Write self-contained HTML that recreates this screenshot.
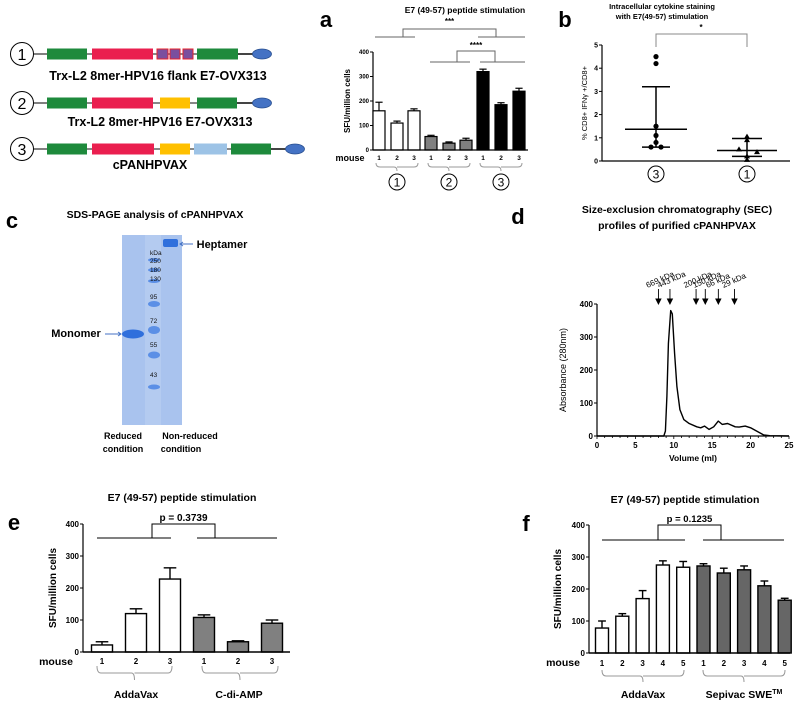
<!DOCTYPE html>
<html><head><meta charset="utf-8"><style>
html,body{margin:0;padding:0;background:#fff;}
svg{display:block;font-family:"Liberation Sans",sans-serif;}
.b{font-weight:bold;}
</style></head><body>
<svg id="fig" width="800" height="703" viewBox="0 0 800 703" xmlns="http://www.w3.org/2000/svg">
<g id="constructs"></g>
<g id="pa"></g>
<g id="pb"></g>
<g id="pc"></g>
<g id="pd"></g>
<g id="pe"></g>
<g id="pf"></g>
</svg>
<script>
// ---------- data ----------
const aCategories = ["1","2","3","1","2","3","1","2","3"];
const aValues = [160,110,160,55,28,40,320,185,240];
const aErrors = [35,8,8,5,5,8,10,8,12];
const aFills = ["#fff","#fff","#fff","#808080","#808080","#808080","#000","#000","#000"];
const aTicks = [0,100,200,300,400];

const bGroups = ["③","①"];
const bGroup3Values = [4.5,4.2,1.5,1.1,0.8,0.6,0.6];
const bGroup1Values = [1.05,0.9,0.5,0.38,0.2,0.05];
const bMeans = [1.37,0.45];
const bSDlow = [0.6,0.2];
const bSDhigh = [3.2,0.97];
const bTicks = [0,1,2,3,4,5];

const dVolumes = [0,8.7,8.9,9.1,9.3,9.6,9.8,10.1,10.4,10.8,11.3,12,13,13.5,14,14.6,15.2,15.8,16.3,17,18,18.5,19.3,20,21,21.7,22.5,25];
const dAbsorbance = [0,0,15,120,280,380,370,250,150,80,50,38,28,25,30,20,28,45,35,38,28,27,30,25,12,3,1,0];
const dMarkerLabels = ["669 kDa","443 kDa","200 kDa","150 kDa","66 kDa","29 kDa"];
const dMarkerVolumes = [8.0,9.5,12.9,14.1,15.8,17.9];
const dXTicks = [0,5,10,15,20,25];
const dYTicks = [0,100,200,300,400];

const eCategories = ["1","2","3","1","2","3"];
const eValues = [22,120,228,108,32,90];
const eErrors = [10,15,35,8,3,10];
const eFills = ["#fff","#fff","#fff","#808080","#808080","#808080"];
const eTicks = [0,100,200,300,400];

const fCategories = ["1","2","3","4","5","1","2","3","4","5"];
const fValues = [78,115,170,275,268,272,250,260,210,165];
const fErrors = [22,8,25,13,18,7,15,12,15,6];
const fFills = ["#fff","#fff","#fff","#fff","#fff","#666","#666","#666","#666","#666"];
const fTicks = [0,100,200,300,400];

const NS="http://www.w3.org/2000/svg";
function mk(parent,tag,attrs,text){
  const el=document.createElementNS(NS,tag);
  for(const k in attrs) el.setAttribute(k,attrs[k]);
  if(text!==undefined) el.textContent=text;
  parent.appendChild(el); return el;
}
function lin(d0,d1,r0,r1){return v=>r0+(v-d0)*(r1-r0)/(d1-d0);}

// ---------- constructs ----------
const C=document.getElementById('constructs');
function circNum(g,cx,cy,r,t,fs){
  const c=mk(g,'circle',{cx:cx,cy:cy,r:r,fill:'none',stroke:'#000','stroke-width':1});
  
  
  const tx=mk(g,'text',{x:cx,y:cy+fs*0.36,'text-anchor':'middle','font-size':fs},t);
  
  
}
const rows=[
 {y:54,label:"Trx-L2 8mer-HPV16 flank E7-OVX313",ly:80,lx:158,end:255,ell:262,
  segs:[[47,87,'#1e8a3c'],[92,153,'#ea1f4f'],[197,238,'#1e8a3c']],purple:[[157,168],[170,180],[183,193]]},
 {y:103,label:"Trx-L2 8mer-HPV16 E7-OVX313",ly:126,lx:160,end:255,ell:262,
  segs:[[47,87,'#1e8a3c'],[92,153,'#ea1f4f'],[160,190,'#ffc000'],[197,237,'#1e8a3c']],purple:[]},
 {y:149,label:"cPANHPVAX",ly:169,lx:150,end:288,ell:295,
  segs:[[47,87,'#1e8a3c'],[92,154,'#ea1f4f'],[160,190,'#ffc000'],[194,227,'#9dc3e6'],[231,271,'#1e8a3c']],purple:[]}
];
rows.forEach((r,i)=>{
  circNum(C,22,r.y,11.5,String(i+1),16);
  const l1=mk(C,'line',{x1:34,y1:r.y,x2:47,y2:r.y,stroke:'#000','stroke-width':1});
  
  const l2=mk(C,'line',{x1:47,y1:r.y,x2:r.end,y2:r.y,stroke:'#888','stroke-width':2});
  
  r.segs.forEach(s=>{
    const rc=mk(C,'rect',{x:s[0],y:r.y-5.5,width:s[1]-s[0],height:11,fill:s[2]});
    
    
  });
  r.purple.forEach(p=>{
    const rc=mk(C,'rect',{x:p[0],y:r.y-5,width:p[1]-p[0],height:10,fill:'#7a4f9e',stroke:'#e8202a','stroke-width':1});
    
    
  });
  const l3=mk(C,'line',{x1:r.segs[r.segs.length-1][1],y1:r.y,x2:r.ell-9,y2:r.y,stroke:'#000','stroke-width':1});
  
  const e=mk(C,'ellipse',{cx:r.ell,cy:r.y,rx:9.5,ry:5,fill:'#4472c4',stroke:'#2a4f8f','stroke-width':0.8});
  
  
  const t=mk(C,'text',{x:r.lx,y:r.ly,'text-anchor':'middle','font-size':12.5,'class':'b'},r.label);
  
  
});

// ---------- helpers ----------
function yAxis(g,x,y0,y1,ticks,sc,fs,tickLen){
  const ax=mk(g,'line',{x1:x,y1:y0,x2:x,y2:y1,stroke:'#000','stroke-width':1.2});
  
  
  ticks.forEach(t=>{
    const tl=mk(g,'line',{x1:x-tickLen,y1:sc(t),x2:x,y2:sc(t),stroke:'#000','stroke-width':1});
    
    const tt=mk(g,'text',{x:x-tickLen-1,y:sc(t)+fs*0.35,'text-anchor':'end','font-size':fs,'class':'b'},String(t));
    
    
  });
}
function bars(g,xs,vals,errs,fills,w,sc,y0,sw){
  vals.forEach((v,i)=>{
    const x=xs(i);
    const el=mk(g,'line',{x1:x,y1:sc(v),x2:x,y2:sc(v+errs[i]),stroke:'#000','stroke-width':sw});
    
    
    const cap=mk(g,'line',{x1:x-w*0.3,y1:sc(v+errs[i]),x2:x+w*0.3,y2:sc(v+errs[i]),stroke:'#000','stroke-width':sw});
    
    const r=mk(g,'rect',{x:x-w/2,y:sc(v),width:w,height:y0-sc(v),fill:fills[i],stroke:'#000','stroke-width':sw});
    
    
  });
}
function brace(g,x1,x2,y,h){
  const m=(x1+x2)/2;
  const p=mk(g,'path',{d:`M${x1},${y} Q${x1},${y+h/2} ${x1+4},${y+h/2} L${m-3},${y+h/2} Q${m},${y+h/2} ${m},${y+h} M${m},${y+h/2} Q${m},${y+h/2} ${m+3},${y+h/2} L${x2-4},${y+h/2} Q${x2},${y+h/2} ${x2},${y}`,fill:'none',stroke:'#999','stroke-width':1});
  
  
}
function sig(g,lx1,lx2,rx1,rx2,ly,bx1,bx2,by,label,lblY,fs,stroke){
  const p=mk(g,'path',{d:`M${lx1},${ly} H${lx2} M${rx1},${ly} H${rx2} M${bx1},${ly} V${by} H${bx2} V${ly}`,fill:'none',stroke:stroke,'stroke-width':1});
  
  
  const t=mk(g,'text',{x:(bx1+bx2)/2,y:lblY,'text-anchor':'middle','font-size':fs,'class':'b'},label);
  
  
}
function txt(g,x,y,s,fs,name,anchor,bold,extra){
  const a={x:x,y:y,'font-size':fs,'text-anchor':anchor||'middle'};
  if(bold) a['class']='b';
  if(extra) for(const k in extra) a[k]=extra[k];
  const t=mk(g,'text',a,s);
  
  
  return t;
}

// ---------- panel a ----------
(function(){
  const g=document.getElementById('pa');
  const sc=lin(0,400,150,52);
  const xc=[379,397,414,431,449,466,483,501,519];
  const xs=i=>xc[i];
  txt(g,326,27,"a",22,'panel-letter','middle',true);
  txt(g,465,13,"E7 (49-57) peptide stimulation",8.5,'chart-title','middle',true);
  txt(g,350,101,"SFU/million cells",8,'y-axis-title','middle',true,{transform:'rotate(-90 350 101)'});
  yAxis(g,373,52,150,aTicks,sc,6,3);
  bars(g,xs,aValues,aErrors,aFills,12,sc,150,1.2);
  const xa=mk(g,'line',{x1:373,y1:150,x2:528,y2:150,stroke:'#000','stroke-width':1.2});
  
  
  aCategories.forEach((c,i)=>{txt(g,xs(i),160,c,6.5,'x-tick-label','middle',true);});
  txt(g,350,161,"mouse",9,'x-axis-title','middle',true);
  [[376,418],[428,470],[480,522]].forEach((b,i)=>{brace(g,b[0],b[1],163,8);circNum(g,(b[0]+b[1])/2,182,8,String(i+1),12);});
  sig(g,375,415,478,525,37,403,496,29,"***",24,8,'#666');
  sig(g,430,470,480,525,62,457,495,51,"****",48,8,'#666');
})();

// ---------- panel b ----------
(function(){
  const g=document.getElementById('pb');
  const sc=lin(0,5,161,45);
  txt(g,565,27,"b",22,'panel-letter','middle',true);
  txt(g,662,9,"Intracellular cytokine staining",7.5,'chart-title','middle',true);
  txt(g,662,19,"with E7(49-57) stimulation",7.5,'chart-title','middle',true);
  txt(g,587,103,"% CD8+ IFNγ +/CD8+",7.5,'y-axis-title','middle',false,{transform:'rotate(-90 587 103)'});
  yAxis(g,602,45,161,bTicks,sc,7,3);
  const xa=mk(g,'line',{x1:602,y1:161,x2:790,y2:161,stroke:'#000','stroke-width':1.2});
  
  const gx=[656,747];
  circNum(g,gx[0],174,8,"3",12);
  circNum(g,gx[1],174,8,"1",12);
  const off3=[0,0,0,0,0,-5,5];
  bGroup3Values.forEach((v,i)=>{
    const c=mk(g,'circle',{cx:gx[0]+off3[i],cy:sc(v),r:2.6,fill:'#000'});
    
    
  });
  const off1=[0,0,-8,10,0,0];
  bGroup1Values.forEach((v,i)=>{
    const x=gx[1]+off1[i],y=sc(v);
    const p=mk(g,'path',{d:`M${x},${y-3} L${x+3},${y+2} L${x-3},${y+2}Z`,fill:'#000'});
    
    
  });
  const mw=[31,30],cw=[14,15];
  bMeans.forEach((m,i)=>{
    const l=mk(g,'line',{x1:gx[i]-mw[i],y1:sc(m),x2:gx[i]+mw[i],y2:sc(m),stroke:'#000','stroke-width':1.5});
    
    
    const v=mk(g,'path',{d:`M${gx[i]},${sc(bSDlow[i])} V${sc(bSDhigh[i])} M${gx[i]-cw[i]},${sc(bSDhigh[i])} H${gx[i]+cw[i]} M${gx[i]-cw[i]},${sc(bSDlow[i])} H${gx[i]+cw[i]}`,fill:'none',stroke:'#000','stroke-width':1.5});
    
    
  });
  const br=mk(g,'path',{d:`M${gx[0]},47 V34 H${gx[1]} V47`,fill:'none',stroke:'#888','stroke-width':1});
  
  txt(g,701,30,"*",8,'significance-label','middle',true);
})();

// ---------- panel c ----------
(function(){
  const g=document.getElementById('pc');
  txt(g,12,228,"c",22,'panel-letter','middle',true);
  txt(g,155,218,"SDS-PAGE analysis of cPANHPVAX",10.5,'gel-title','middle',true);
  const gel=mk(g,'rect',{x:122,y:235,width:60,height:190,fill:'#a9c3ee'});
  
  
  const l2=mk(g,'rect',{x:145,y:235,width:16,height:190,fill:'#b4cbf0'});
  
  const mb=mk(g,'ellipse',{cx:133,cy:334,rx:11,ry:4.5,fill:'#2f6fdc'});
  
  
  const hb=mk(g,'rect',{x:163,y:239,width:15,height:8,fill:'#2f6fdc',rx:2});
  
  
  [[260,2],[270,2],[281,2],[304,3],[330,4],[355,3.5],[387,2.5]].forEach(b=>{
    const e=mk(g,'ellipse',{cx:154,cy:b[0],rx:6,ry:b[1],fill:'#5b8fe6'});
    
    
  });
  [["kDa",255],["250",263],["180",272],["130",281],["95",299],["72",323],["55",347],["43",377]].forEach(m=>{
    txt(g,150,m[1],m[0],6.5,'marker-label','start',false,{fill:'#111'});
  });
  txt(g,76,337,"Monomer",11,'monomer-label','middle',true);
  const a1=mk(g,'path',{d:"M105,334 H121 M118,332 L121,334 L118,336",fill:'none',stroke:'#4472c4','stroke-width':1});
  
  txt(g,222,248,"Heptamer",11,'heptamer-label','middle',true);
  const a2=mk(g,'path',{d:"M193,244 H180 M183,242 L180,244 L183,246",fill:'none',stroke:'#4472c4','stroke-width':1});
  
  txt(g,123,439,"Reduced",9,'lane-label','middle',true);
  txt(g,123,452,"condition",9,'lane-label','middle',true);
  txt(g,190,439,"Non-reduced",9,'lane-label','middle',true);
  txt(g,181,452,"condition",9,'lane-label','middle',true);
})();

// ---------- panel d ----------
(function(){
  const g=document.getElementById('pd');
  const xs=lin(0,25,597,789), ys=lin(0,400,436,304);
  txt(g,518,224,"d",22,'panel-letter','middle',true);
  txt(g,677,213,"Size-exclusion chromatography (SEC)",10.5,'chart-title','middle',true);
  txt(g,677,229,"profiles of purified cPANHPVAX",10.5,'chart-title','middle',true);
  txt(g,566,370,"Absorbance (280nm)",9,'y-axis-title','middle',false,{transform:'rotate(-90 566 370)'});
  yAxis(g,597,304,436,dYTicks,ys,8,3);
  const xa=mk(g,'line',{x1:597,y1:436,x2:789,y2:436,stroke:'#000','stroke-width':1.2});
  
  for(let v=0;v<=25;v++){
    const t=mk(g,'line',{x1:xs(v),y1:436,x2:xs(v),y2:436+(v%5===0?3:2),stroke:'#000','stroke-width':0.8});
    
  }
  dXTicks.forEach(v=>txt(g,xs(v),448,String(v),8,'x-tick-label','middle',true));
  txt(g,693,461,"Volume (ml)",8.5,'x-axis-title','middle',true);
  const pts=dVolumes.map((v,i)=>xs(v).toFixed(1)+','+ys(dAbsorbance[i]).toFixed(1)).join(' L');
  const path=mk(g,'path',{d:'M'+pts,fill:'none',stroke:'#000','stroke-width':1.4,'stroke-linejoin':'round'});
  
  
  dMarkerVolumes.forEach((v,i)=>{
    const x=xs(v);
    const a=mk(g,'path',{d:`M${x},289 V301 M${x-2.5},299 L${x},304 L${x+2.5},299Z`,fill:'#000',stroke:'#000','stroke-width':0.9});
    
    
    txt(g,x-11,288,dMarkerLabels[i],8,'mw-marker-label','start',false,{transform:`rotate(-24 ${x-11} 288)`});
  });
})();

// ---------- panel e ----------
(function(){
  const g=document.getElementById('pe');
  const sc=lin(0,400,652,524);
  const xs=i=>102+i*34;
  txt(g,14,530,"e",22,'panel-letter','middle',true);
  txt(g,182,501,"E7 (49-57) peptide stimulation",10.5,'chart-title','middle',true);
  txt(g,56,588,"SFU/million cells",10,'y-axis-title','middle',true,{transform:'rotate(-90 56 588)'});
  yAxis(g,83,524,652,eTicks,sc,8,3);
  bars(g,xs,eValues,eErrors,eFills,21,sc,652,1.4);
  const xa=mk(g,'line',{x1:83,y1:652,x2:290,y2:652,stroke:'#000','stroke-width':1.4});
  
  eCategories.forEach((c,i)=>txt(g,xs(i),664,c,8,'x-tick-label','middle',true));
  txt(g,56,665,"mouse",10.5,'x-axis-title','middle',true);
  brace(g,97,172,666,14);brace(g,202,278,666,14);
  txt(g,136,698,"AddaVax",10.5,'group-label','middle',true);
  txt(g,239,698,"C-di-AMP",10.5,'group-label','middle',true);
  sig(g,97,171,197,277,538,152,215,524,"p = 0.3739",521,10,'#000');
})();

// ---------- panel f ----------
(function(){
  const g=document.getElementById('pf');
  const sc=lin(0,400,653,525);
  const xs=i=>602+i*20.3;
  txt(g,526,531,"f",22,'panel-letter','middle',true);
  txt(g,685,503,"E7 (49-57) peptide stimulation",10.5,'chart-title','middle',true);
  txt(g,561,589,"SFU/million cells",10,'y-axis-title','middle',true,{transform:'rotate(-90 561 589)'});
  yAxis(g,589,525,653,fTicks,sc,8,3);
  bars(g,xs,fValues,fErrors,fFills,13,sc,653,1.4);
  const xa=mk(g,'line',{x1:589,y1:653,x2:790,y2:653,stroke:'#000','stroke-width':1.4});
  
  fCategories.forEach((c,i)=>txt(g,xs(i),666,c,8,'x-tick-label','middle',true));
  txt(g,563,666,"mouse",10.5,'x-axis-title','middle',true);
  brace(g,602,684,670,12);brace(g,703,785,670,12);
  txt(g,643,698,"AddaVax",10.5,'group-label','middle',true);
  const t=txt(g,744,698,"Sepivac SWE",10.5,'group-label','middle',true);
  mk(t,'tspan',{dy:-4,'font-size':7},"TM");
  sig(g,602,685,703,784,540,658,721,525,"p = 0.1235",522,9.5,'#000');
})();
</script>
</body></html>
